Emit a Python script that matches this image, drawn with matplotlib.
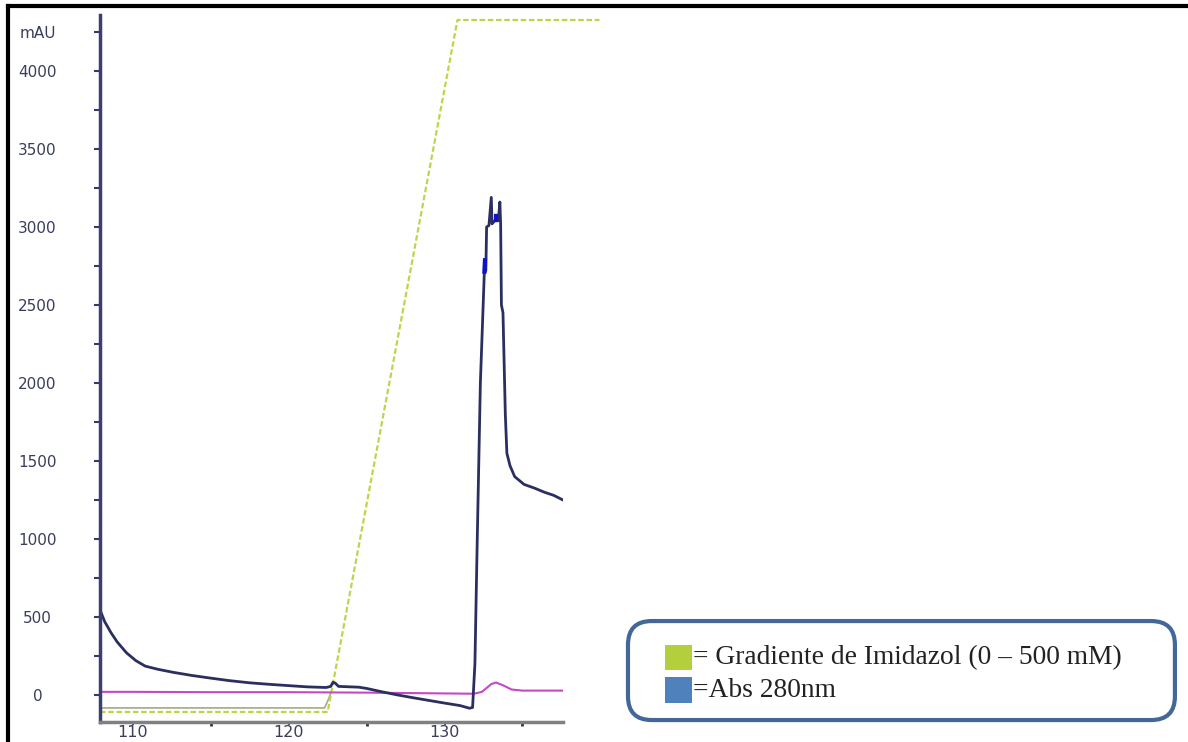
import numpy as np
import matplotlib.pyplot as plt
from matplotlib.patches import FancyBboxPatch, Rectangle
from matplotlib.lines import Line2D

# Abs 280 nm trace (mAU)
abs_x = [107.9, 108.2, 108.6, 109.0, 109.6, 110.2, 110.8, 111.6, 112.6, 113.8, 115.0,
         116.2, 117.5, 118.8, 120.0, 121.2, 122.4, 122.7, 122.85, 123.0, 123.2, 124.5,
         125.0, 126.0, 127.0, 128.0, 129.0, 130.0, 131.0, 131.6, 131.8, 131.95, 132.1,
         132.3, 132.55, 132.65, 132.7, 132.85, 133.0, 133.05, 133.3, 133.45, 133.55,
         133.6, 133.65, 133.75, 133.9, 134.0, 134.2, 134.5, 135.1, 135.8, 136.4, 137.0, 137.6]
abs_y = [545, 470, 400, 340, 270, 220, 185, 165, 145, 125, 108,
         92, 78, 68, 60, 52, 48, 55, 82, 75, 55, 50,
         42, 20, 0, -18, -35, -52, -68, -85, -80, 200, 1000,
         2000, 2700, 2720, 3000, 3010, 3190, 3020, 3050, 3040, 3160,
         3020, 2500, 2450, 1800, 1550, 1470, 1400, 1350, 1325, 1300, 1280, 1250]

# fraction marks on the peak
mark1_x = [132.55, 132.6]
mark1_y = [2700, 2800]
mark2_x = [133.2, 133.4]
mark2_y = [3060, 3060]

# second UV / conductivity trace (pink)
pink_x = [107.9, 110.0, 115.0, 120.0, 125.0, 128.0, 131.9, 132.4, 133.0, 133.3, 133.8, 134.3, 135.0, 137.6]
pink_y = [20, 20, 18, 18, 15, 12, 8, 20, 70, 80, 60, 35, 28, 28]

# imidazole gradient (dashed) and concentration trace (solid)
grad_x = [107.9, 122.5, 130.83, 139.94]
grad_y = [-109, -109, 4327, 4327]
cond_x = [107.9, 122.3, 122.5, 122.7]
cond_y = [-83, -83, -40, 10]

ytick_vals = np.arange(0, 4500, 250)
ytick_labels = ['0', '', '500', '', '1000', '', '1500', '', '2000', '', '2500', '',
                '3000', '', '3500', '', '4000', 'mAU']
xtick_vals = [110, 120, 130]
xminor_vals = [115, 125, 135]

legend_labels = ['= Gradiente de Imidazol (0 \u2013 500 mM)', '=Abs 280nm']
legend_colors = ['#b4cf3c', '#4f81bd']

fig = plt.figure(figsize=(11.88, 7.42), dpi=100)
ax = fig.add_axes([0.0842, 0.027, 0.3897, 0.953])

ax.plot(cond_x, cond_y, color='#b0ad8c', lw=1.3)
ax.plot(grad_x, grad_y, color='#bcd64c', lw=1.6, ls=(0, (2.5, 1.2)), clip_on=False)
ax.plot(pink_x, pink_y, color='#c449c4', lw=1.5)
ax.plot(abs_x, abs_y, color='#2b2f5f', lw=2)
ax.plot(mark1_x, mark1_y, color='#1010d0', lw=3, solid_capstyle='butt')
ax.plot(mark2_x, mark2_y, color='#1010d0', lw=6, solid_capstyle='butt')

ax.set_xlim(107.9, 137.6)
ax.set_ylim(-173, 4360)

ax.spines['top'].set_visible(False)
ax.spines['right'].set_visible(False)
ax.spines['left'].set_color('#3a3f6e')
ax.spines['left'].set_linewidth(2.5)
ax.spines['bottom'].set_color('#808080')
ax.spines['bottom'].set_linewidth(2.5)

ax.set_yticks(ytick_vals)
ax.set_yticklabels(ytick_labels, ha='center')
ax.tick_params(axis='y', length=4, width=1.5, color='#363a6b', pad=41,
               labelsize=11, labelcolor='#3a3d5c')
ax.set_xticks(xtick_vals)
ax.set_xticks(xminor_vals, minor=True)
ax.tick_params(axis='x', which='major', length=2, width=1.2, color='#333333',
               pad=0, labelsize=11.5, labelcolor='#3a3d5c')
ax.tick_params(axis='x', which='minor', length=3, width=2, color='#333333')

# legend box
box = FancyBboxPatch((0.5286, 0.0296), 0.4604, 0.1334, boxstyle='round,pad=0,rounding_size=0.02',
                     transform=fig.transFigure, facecolor='white', edgecolor='#44679a',
                     lw=3, mutation_aspect=1188 / 742)
fig.patches.append(box)
for i, (lab, col) in enumerate(zip(legend_labels, legend_colors)):
    yb = 0.097 - i * 0.044
    fig.patches.append(Rectangle((0.5598, yb), 0.0227, 0.034, transform=fig.transFigure,
                                 facecolor=col, edgecolor='none'))
    fig.text(0.5835, yb + 0.017, lab, fontsize=19.8, family='Liberation Serif',
             color='#222222', va='center', ha='left')

# outer frame of the picture
fig.lines.append(Line2D([0.0067, 1.0], [0.9919, 0.9919], color='black', lw=3,
                        transform=fig.transFigure))
fig.lines.append(Line2D([0.0067, 0.0067], [0.0, 0.9919], color='black', lw=3,
                        transform=fig.transFigure))

fig.savefig('out.png', dpi=100)
